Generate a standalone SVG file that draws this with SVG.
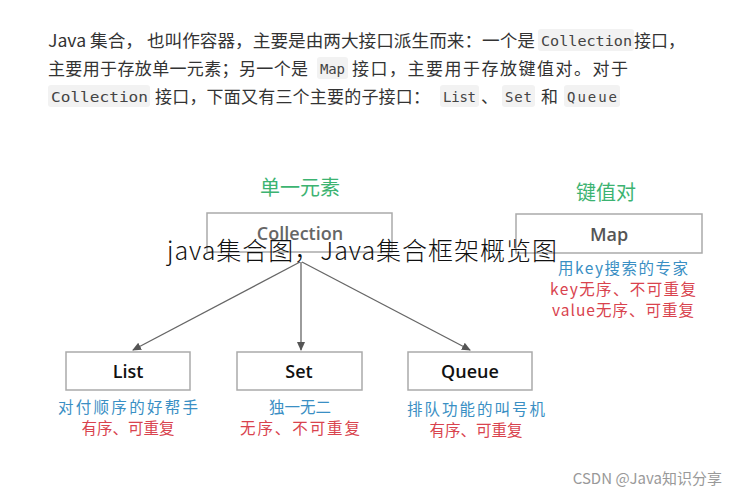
<svg xmlns="http://www.w3.org/2000/svg" width="729" height="490" viewBox="0 0 729 490">
<defs>
<style>
text{font-family:"Noto Sans CJK SC","Noto Sans",sans-serif}
.p{font-size:17px;fill:#333}
.c{font-family:"DejaVu Sans Mono","Noto Sans CJK SC",monospace;font-size:14px;fill:#444}
.cb{fill:#f2f2f2}
.box{fill:#fff;stroke:#aaa;stroke-width:1.5}
.lbl{font-size:18px;fill:#111;text-anchor:middle;font-family:"Open Sans","Noto Sans",sans-serif;font-weight:600}
.g{font-size:20px;fill:#3cb371;text-anchor:middle}
.b{font-size:15.5px;fill:#3a8fc4;text-anchor:middle}
.r{font-size:15.5px;fill:#d9434e;text-anchor:middle}
.ln{stroke:#666;stroke-width:1.3;fill:none}
</style>
<marker id="ah" markerWidth="10" markerHeight="10" refX="8" refY="5" orient="auto" markerUnits="userSpaceOnUse"><path d="M0,1 L9,5 L0,9 z" fill="#555"/></marker>
</defs>
<rect width="729" height="490" fill="#fff"/>
<g id="intro">
<rect class="cb" x="538" y="29" width="96" height="22" rx="3"/>
<rect class="cb" x="317" y="57" width="31" height="22" rx="3"/>
<rect class="cb" x="48" y="85" width="102" height="22" rx="3"/>
<rect class="cb" x="440" y="85" width="39" height="22" rx="3"/>
<rect class="cb" x="502" y="85" width="33" height="22" rx="3"/>
<rect class="cb" x="564" y="85" width="56" height="22" rx="3"/>
<text class="p" x="48" y="47" textLength="487" lengthAdjust="spacingAndGlyphs">Java 集合， 也叫作容器，主要是由两大接口派生而来：一个是</text>
<text class="c" x="541" y="46" textLength="91" lengthAdjust="spacingAndGlyphs">Collection</text><text class="p" x="634" y="47" textLength="51">接口，</text>
<text class="p" x="48" y="75" textLength="260">主要用于存放单一元素；另一个是</text>
<text class="c" x="320" y="74" textLength="25">Map</text><text class="p" x="352" y="75" textLength="276">接口，主要用于存放键值对。对于</text>
<text class="c" x="51" y="102" textLength="97" lengthAdjust="spacingAndGlyphs">Collection</text><text class="p" x="155" y="103" textLength="275">接口，下面又有三个主要的子接口：</text>
<text class="c" x="443" y="102" textLength="33">List</text><text class="p" x="481" y="103">、</text>
<text class="c" x="505" y="102" textLength="27">Set</text><text class="p" x="541" y="103">和</text>
<text class="c" x="567" y="102" textLength="50">Queue</text>
</g>
<g id="connectors">
<line class="ln" x1="300" y1="262" x2="133" y2="350" marker-end="url(#ah)"/>
<line class="ln" x1="301" y1="262" x2="301" y2="350" marker-end="url(#ah)"/>
<line class="ln" x1="302" y1="262" x2="470" y2="350" marker-end="url(#ah)"/>
</g>
<g id="collection">
<text class="g" x="300" y="195">单一元素</text>
<rect class="box" x="207" y="213" width="185" height="39"/>
<text class="lbl" x="300" y="240" style="fill:#666">Collection</text>
</g>
<g id="map">
<text class="g" x="606" y="200">键值对</text>
<rect class="box" x="516" y="214" width="186" height="39"/>
<text class="lbl" x="609" y="241" style="fill:#555">Map</text>
<text class="b" x="623" y="274" textLength="130">用key搜索的专家</text>
<text class="r" x="623" y="295" textLength="146">key无序、不可重复</text>
<text class="r" x="623" y="316" textLength="142">value无序、可重复</text>
</g>
<g id="list">
<rect class="box" x="66" y="352" width="124" height="38"/>
<text class="lbl" x="128" y="378">List</text>
<text class="b" x="128" y="413" textLength="140">对付顺序的好帮手</text>
<text class="r" x="128" y="434">有序、可重复</text>
</g>
<g id="set">
<rect class="box" x="237" y="352" width="125" height="38"/>
<text class="lbl" x="299" y="378">Set</text>
<text class="b" x="300" y="413">独一无二</text>
<text class="r" x="300" y="434" textLength="120">无序、不可重复</text>
</g>
<g id="queue">
<rect class="box" x="408" y="352" width="124" height="38"/>
<text class="lbl" x="470" y="378">Queue</text>
<text class="b" x="476" y="415" textLength="138">排队功能的叫号机</text>
<text class="r" x="476" y="436">有序、可重复</text>
</g>
<text x="167" y="260" font-size="25" fill="#111" font-weight="300" textLength="390">java集合图，Java集合框架概览图</text>
<text x="722" y="484" font-size="15" fill="#999" text-anchor="end">CSDN @Java知识分享</text>
</svg>
